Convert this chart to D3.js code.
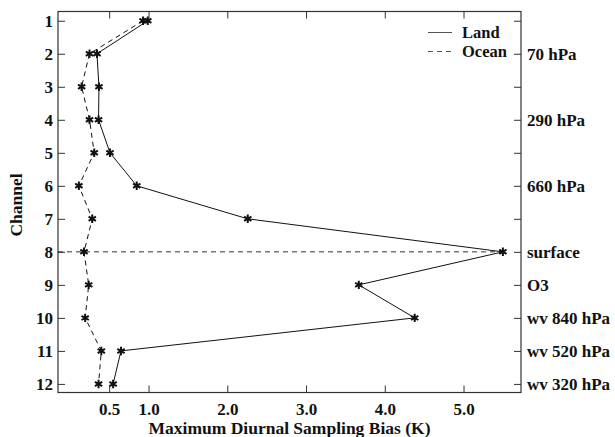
<!DOCTYPE html>
<html>
<head>
<meta charset="utf-8">
<script src="https://cdn.jsdelivr.net/npm/d3@7"></script>
<style>
  body { margin: 0; background: #fff; }
  svg text { font-family: "Times New Roman", "Liberation Serif", "DejaVu Serif", serif !important; font-weight: bold; fill: #111; }
</style>
</head>
<body>
<div id="chart"></div>
<script>
// channels and the two series (max diurnal sampling bias, K)
var channels = [1, 2, 3, 4, 5, 6, 7, 8, 9, 10, 11, 12];
var land  = [0.99, 0.345, 0.37, 0.365, 0.51, 0.85, 2.26, 5.50, 3.67, 4.38, 0.65, 0.55];
var ocean = [0.93, 0.25, 0.15, 0.25, 0.31, 0.115, 0.285, 0.18, 0.24, 0.195, 0.40, 0.365];
var xTicks = [0.5, 1.0, 2.0, 3.0, 4.0, 5.0];
var rightLabels = {2: "70 hPa", 4: "290 hPa", 6: "660 hPa", 8: "surface", 9: "O3",
                   10: "wv 840 hPa", 11: "wv 520 hPa", 12: "wv 320 hPa"};
var surfaceChannel = 8; // dashed guide across to the land peak

var W = 615, H = 437;
var plotL = 58, plotR = 521, plotT = 11.5, plotB = 392.5;
var serif = '"Times New Roman", "Liberation Serif", "DejaVu Serif", serif';

var svg = d3.select("#chart").append("svg")
  .attr("width", W)
  .attr("height", H);

var x = d3.scaleLinear().domain([-0.15, 5.73]).range([plotL, plotR]);
var y = d3.scaleLinear().domain([0.72, 12.26]).range([plotT, plotB]);

// frame
svg.append("rect")
  .attr("x", plotL).attr("y", plotT)
  .attr("width", plotR - plotL).attr("height", plotB - plotT)
  .attr("fill", "none").attr("stroke", "#333").attr("stroke-width", 1.2);

// bottom axis with inward ticks
var xAxis = svg.append("g")
  .attr("transform", "translate(0," + plotB + ")")
  .attr("font-family", serif)
  .call(d3.axisBottom(x).tickValues(xTicks).tickSize(-7).tickPadding(10).tickFormat(d3.format(".1f")));
xAxis.select(".domain").remove();
xAxis.selectAll("line").attr("stroke", "#333");
xAxis.selectAll("text").attr("font-size", 17);

// top ticks only
var xTop = svg.append("g")
  .attr("transform", "translate(0," + plotT + ")")
  .call(d3.axisTop(x).tickValues(xTicks).tickSize(-7).tickFormat(""));
xTop.select(".domain").remove();
xTop.selectAll("line").attr("stroke", "#333");

// left axis
var yAxis = svg.append("g")
  .attr("transform", "translate(" + plotL + ",0)")
  .call(d3.axisLeft(y).tickValues(channels).tickSize(-7).tickPadding(5).tickFormat(d3.format("d")));
yAxis.attr("font-family", serif);
yAxis.select(".domain").remove();
yAxis.selectAll("line").attr("stroke", "#333");
yAxis.selectAll("text").attr("font-size", 17);

// right axis with level labels
var yRight = svg.append("g")
  .attr("transform", "translate(" + plotR + ",0)")
  .call(d3.axisRight(y).tickValues(channels).tickSize(-7).tickPadding(6)
    .tickFormat(function(d){ return rightLabels[d] || ""; }));
yRight.attr("font-family", serif);
yRight.select(".domain").remove();
yRight.selectAll("line").attr("stroke", "#333");
yRight.selectAll("text").attr("font-size", 17);

// axis titles
svg.append("text")
  .attr("x", (plotL + plotR) / 2)
  .attr("y", 434)
  .attr("text-anchor", "middle")
  .attr("font-size", 17.5)
  .text("Maximum Diurnal Sampling Bias (K)");

svg.append("text")
  .attr("transform", "translate(22,205) rotate(-90)")
  .attr("text-anchor", "middle")
  .attr("font-size", 17.5)
  .text("Channel");

// surface guide line
var landPeak = land[channels.indexOf(surfaceChannel)];
svg.append("line")
  .attr("x1", plotL).attr("x2", x(landPeak))
  .attr("y1", y(surfaceChannel)).attr("y2", y(surfaceChannel))
  .attr("stroke", "#333").attr("stroke-width", 1)
  .attr("stroke-dasharray", "5,4");

var line = d3.line()
  .x(function(d){ return x(d.v); })
  .y(function(d){ return y(d.ch); });

var series = [
  {name: "Land", vals: land, dash: null},
  {name: "Ocean", vals: ocean, dash: "5,4"}
];

series.forEach(function(s){
  var pts = channels.map(function(ch, i){ return {ch: ch, v: s.vals[i]}; });
  svg.append("path")
    .datum(pts)
    .attr("d", line)
    .attr("fill", "none")
    .attr("stroke", "#111")
    .attr("stroke-width", 1)
    .attr("stroke-dasharray", s.dash);

  svg.selectAll(".m-" + s.name).data(pts).enter()
    .append("path")
      .attr("class", "m-" + s.name)
      .attr("transform", function(d){ return "translate(" + x(d.v) + "," + y(d.ch) + ")"; })
      .attr("d", d3.symbol().type(d3.symbolAsterisk).size(50))
      .attr("fill", "none")
      .attr("stroke", "#111")
      .attr("stroke-width", 2);
});

// legend
var leg = svg.append("g");
series.forEach(function(s, i){
  var ly = 32.5 + i * 19;
  leg.append("line")
    .attr("x1", 428).attr("x2", 452)
    .attr("y1", ly).attr("y2", ly)
    .attr("stroke", "#555").attr("stroke-width", 1)
    .attr("stroke-dasharray", s.dash);
  leg.append("text")
    .attr("x", 462).attr("y", ly + 5)
    .attr("font-size", 16.5)
    .text(s.name);
});
</script>
</body>
</html>
